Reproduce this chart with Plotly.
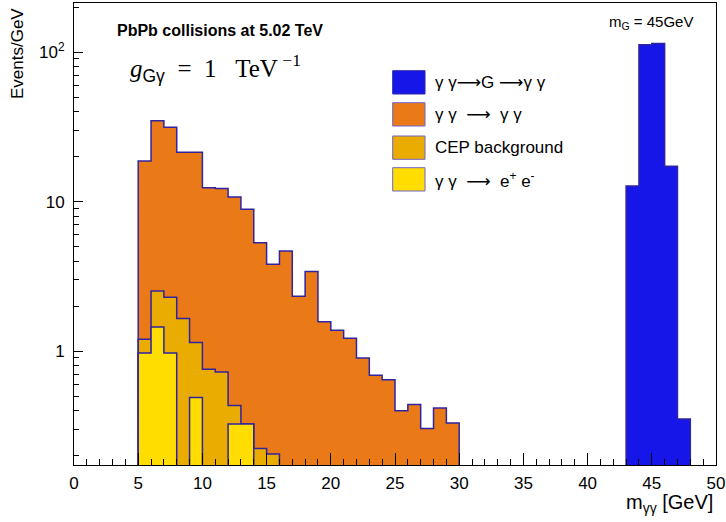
import plotly.graph_objects as go
import numpy as np

# ---------------- data (events / GeV, 1 GeV bins) ----------------
bin_width = 1.0
bkg_first_edge = 5.0          # first bin low edge of background histograms
ee_vals   = [0.97, 1.45, 0.97, 0.0, 0.49, 0.0, 0.0, 0.325, 0.325, 0.0, 0.0]
cep_vals  = [0.23, 1.07, 1.32, 1.65, 0.65, 0.755, 0.724, 0.108, 0.0, 0.223, 0.205]
lbyl_vals = [17.5, 32.2, 29.1, 19.75, 20.2, 11.6, 11.5, 10.3, 8.55, 5.08, 3.6,
             4.67, 2.33, 3.41, 1.57, 1.38, 1.22, 0.90, 0.69, 0.643, 0.399,
             0.44, 0.304, 0.416, 0.33]
sig_first_edge = 43.0
sig_vals  = [12.7, 112.0, 114.0, 17.2, 0.351]

x_ticks = [0, 5, 10, 15, 20, 25, 30, 35, 40, 45, 50]
y_tickvals = [1, 10, 100]
y_ticktext = ["1", "10", "10<sup>2</sup>"]

ARROW = "<span style='font-family:DejaVu Sans'>⟶</span>"
legend_labels = ["γ γ" + ARROW + "G " + ARROW + "γ γ",
                 "γ γ  " + ARROW + "  γ γ",
                 "CEP background",
                 "γ γ  " + ARROW + "  e<sup>+</sup> e<sup>-</sup>"]

# ---------------- styles ----------------
C_SIG = "rgb(22,22,232)"
C_LBYL = "rgb(234,122,24)"
C_CEP = "rgb(234,172,0)"
C_EE = "rgb(255,221,0)"
C_LINE = "rgb(48,36,160)"
BASE = 1e-3

n = len(lbyl_vals)
ee = np.zeros(n); ee[:len(ee_vals)] = ee_vals
cep = np.zeros(n); cep[:len(cep_vals)] = cep_vals
lbyl = np.array(lbyl_vals)
stack_ee = ee
stack_cep = ee + cep
stack_all = ee + cep + lbyl


def step_poly(x0, vals):
    xs = [x0]
    ys = [BASE]
    for i, v in enumerate(vals):
        xl = x0 + i * bin_width
        xr = xl + bin_width
        vv = v if v > 0 else BASE
        xs += [xl, xr]
        ys += [vv, vv]
    xs.append(x0 + len(vals) * bin_width)
    ys.append(BASE)
    return xs, ys


fig = go.Figure()
for vals, x0, col, name in [
    (stack_all, bkg_first_edge, C_LBYL, "lbyl"),
    (stack_cep, bkg_first_edge, C_CEP, "cep"),
    (stack_ee, bkg_first_edge, C_EE, "ee"),
    (sig_vals, sig_first_edge, C_SIG, "sig"),
]:
    xs, ys = step_poly(x0, vals)
    fig.add_trace(go.Scatter(x=xs, y=ys, mode="lines", fill="toself",
                             fillcolor=col, line=dict(color=C_LINE, width=1.5),
                             name=name, showlegend=False, hoverinfo="skip"))

# ---------------- layout ----------------
W, H = 726, 522
L, R, T, B = 74, 10, 3, 57
pw, ph = W - L - R, H - T - B


def px(xp):
    return (xp - L) / pw


def py(yp):
    return (H - B - yp) / ph


font_main = "Liberation Sans, Arial, Helvetica, sans-serif"
font_serif = "Liberation Serif, DejaVu Serif, serif"

fig.update_layout(
    width=W, height=H,
    margin=dict(l=L, r=R, t=T, b=B, pad=0),
    paper_bgcolor="white", plot_bgcolor="white",
    font=dict(family=font_main, size=16, color="black"),
    showlegend=False,
)
fig.update_xaxes(
    range=[0, 50], tickvals=x_ticks, ticks="inside", ticklen=12,
    tickcolor="black", tickwidth=1, showline=True, linecolor="black",
    linewidth=1, mirror=True, showgrid=False, zeroline=False,
    tickfont=dict(size=17), ticklabelstandoff=3, automargin=False,
    minor=dict(dtick=1, ticks="inside", ticklen=6, tickcolor="black",
               showgrid=False),
)
fig.update_yaxes(
    type="log", range=[np.log10(0.173), 2.328], tickvals=y_tickvals,
    ticktext=y_ticktext, ticks="inside", ticklen=9, tickcolor="black",
    showline=True, linecolor="black", linewidth=1, mirror=True,
    showgrid=False, zeroline=False, tickfont=dict(size=17),
    ticklabelstandoff=5, automargin=False,
    minor=dict(dtick="D1", ticks="inside", ticklen=5, tickcolor="black",
               showgrid=False),
)

anns = []
anns.append(dict(x=px(715), y=py(503), xref="paper", yref="paper",
                 text="m<sub>γγ</sub> [GeV]", showarrow=False,
                 xanchor="right", yanchor="middle", font=dict(size=20)))
anns.append(dict(x=px(18), y=py(54), xref="paper", yref="paper",
                 text="Events/GeV", textangle=-90, showarrow=False,
                 xanchor="center", yanchor="middle", font=dict(size=17)))
anns.append(dict(x=px(115), y=py(31), xref="paper", yref="paper",
                 text="<b>PbPb collisions at 5.02 TeV</b>", showarrow=False,
                 xanchor="left", yanchor="middle", font=dict(size=16)))
anns.append(dict(x=px(128), y=py(68), xref="paper", yref="paper",
                 text=("<i>g</i><sub><span style='font-family:Liberation Sans'>Gγ</span></sub>"
                       "  =  1   TeV<sup> −1</sup>"),
                 showarrow=False, xanchor="left", yanchor="middle",
                 font=dict(size=25, family=font_serif)))
anns.append(dict(x=px(607), y=py(23), xref="paper", yref="paper",
                 text="m<sub>G</sub> = 45GeV", showarrow=False,
                 xanchor="left", yanchor="middle", font=dict(size=15)))

shapes = []
leg_cols = [C_SIG, C_LBYL, C_CEP, C_EE]
leg_border = ["rgb(40,40,170)", "rgb(110,100,200)", "rgb(110,100,200)",
              "rgb(110,100,200)"]
leg_tops = [70.7, 102.7, 136.0, 167.7]
for col, bc, top, lab in zip(leg_cols, leg_border, leg_tops, legend_labels):
    shapes.append(dict(type="rect", xref="paper", yref="paper",
                       x0=px(392.7), x1=px(425), y0=py(top), y1=py(top + 23.3),
                       fillcolor=col, line=dict(color=bc, width=1), layer="above"))
    anns.append(dict(x=px(433), y=py(top + 11.8), xref="paper", yref="paper",
                     text=lab, showarrow=False, xanchor="left",
                     yanchor="middle", font=dict(size=17)))

fig.update_layout(annotations=anns, shapes=shapes)
fig.write_html("out.html", config={"displayModeBar": False},
               post_script="document.body.style.margin='0px';")
